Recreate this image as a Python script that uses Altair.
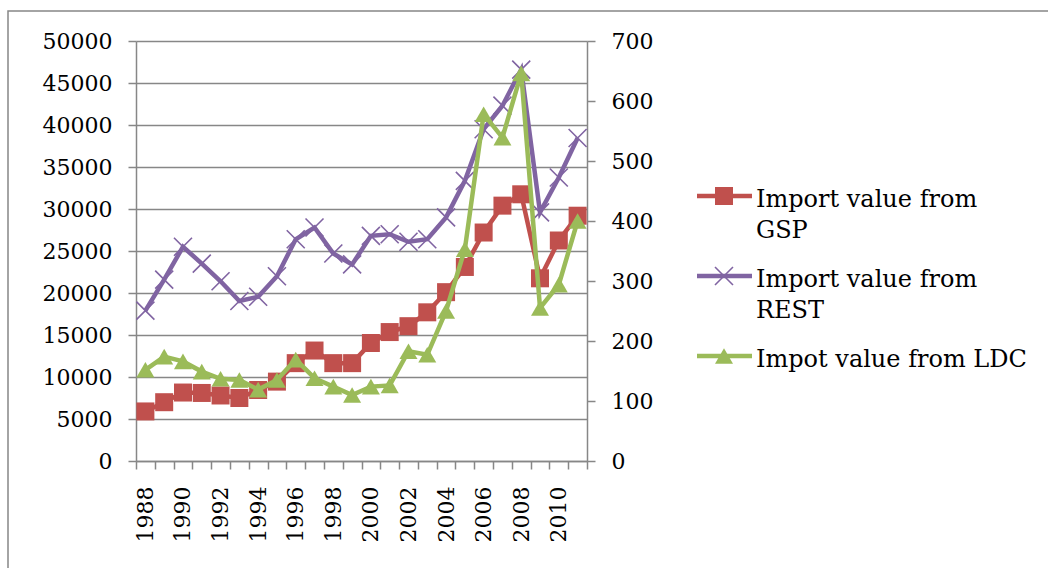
import altair as alt
import pandas as pd

years = list(range(1988, 2012))
gsp = [5900, 7000, 8150, 8100, 7800, 7500, 8450, 9450, 11650, 13150, 11650, 11650,
       14050, 15350, 16050, 17700, 20100, 23100, 27200, 30400, 31750, 21750, 26250, 29200]
rest = [17900, 21600, 25500, 23500, 21400, 19050, 19550, 22000, 26400, 27800, 24700, 23400,
        26800, 27000, 26100, 26400, 29000, 33350, 39500, 42300, 46600, 29600, 33750, 38450]
ldc = [152, 174, 166, 149, 137, 135, 119, 135, 169, 138, 124, 110,
       124, 126, 183, 177, 250, 353, 578, 539, 646, 255, 294, 400]

left_ticks = list(range(0, 50001, 5000))
right_ticks = list(range(0, 701, 100))

legend_lines = [["Import value from", "GSP"], ["Import value from", "REST"], ["Impot value from LDC"]]
colors = ["#C0504D", "#8064A2", "#9BBB59"]

W, H = 451, 420
FONT = "DejaVu Serif"
GRAY = "#878787"
XSHAPE = "M-1,-1L1,1M-1,1L1,-1"

df_gsp = pd.DataFrame({"year": years, "value": gsp})
df_rest = pd.DataFrame({"year": years, "value": rest})
df_ldc = pd.DataFrame({"year": years, "value": ldc})

x_enc = alt.X(
    "year:O",
    bandPosition=0.5,
    scale=alt.Scale(type="band", paddingInner=0, paddingOuter=0),
    axis=alt.Axis(title=None, tickBand="extent", labelAngle=-90, labelPadding=17, tickSize=8,
                  labelExpr="datum.value % 2 == 0 ? datum.label : ''", grid=False),
)

yl = alt.Y("value:Q", scale=alt.Scale(domain=[0, 50000], nice=False),
           axis=alt.Axis(title=None, values=left_ticks, grid=True, orient="left", format="d",
                         tickSize=8, labelPadding=16))
yr = alt.Y("value:Q", scale=alt.Scale(domain=[0, 700], nice=False),
           axis=alt.Axis(title=None, values=right_ticks, grid=False, orient="right", format="d",
                         tickSize=8, labelPadding=16))


def series(df, y, color, shape, filled, sw=0):
    line = alt.Chart(df).mark_line(color=color, strokeWidth=4.5).encode(x=x_enc, y=y)
    if filled:
        pts = alt.Chart(df).mark_point(shape=shape, filled=True, size=324, color=color,
                                       opacity=1).encode(x=x_enc, y=y)
    else:
        pts = alt.Chart(df).mark_point(shape=shape, filled=False, size=324, color=color,
                                       strokeWidth=sw, opacity=1).encode(x=x_enc, y=y)
    return [line, pts]


left = alt.layer(*series(df_gsp, yl, colors[0], "square", True),
                 *series(df_rest, yl, colors[1], XSHAPE, False, 1.6))
right = alt.layer(*series(df_ldc, yr, colors[2], "triangle-up", True))

one = pd.DataFrame({"k": [0]})
frame = alt.Chart(one).mark_rect(fill="transparent", stroke=GRAY, strokeWidth=1.5).encode(
    x=alt.value(-128), x2=alt.value(1000), y=alt.value(-30), y2=alt.value(620))

legend_layers = []
row_y = [155, 235, 315]
shapes = [("square", True), (XSHAPE, False), ("triangle-up", True)]
for i in range(3):
    ly = row_y[i]
    c = colors[i]
    legend_layers.append(alt.Chart(one).mark_rule(color=c, strokeWidth=4.5).encode(
        x=alt.value(561), x2=alt.value(616), y=alt.value(ly)))
    shp, fl = shapes[i]
    if fl:
        legend_layers.append(alt.Chart(one).mark_point(shape=shp, filled=True, size=324, color=c,
                                                       opacity=1).encode(x=alt.value(588), y=alt.value(ly)))
    else:
        legend_layers.append(alt.Chart(one).mark_point(shape=shp, filled=False, size=324, color=c,
                                                       strokeWidth=1.6, opacity=1).encode(
            x=alt.value(588), y=alt.value(ly)))
    legend_layers.append(alt.Chart(one).mark_text(align="left", baseline="alphabetic", font=FONT,
                                                  fontSize=24, lineHeight=31, color="black").encode(
        x=alt.value(620), y=alt.value(ly + 11), text=alt.value(legend_lines[i])))

chart = alt.layer(frame, left, right, *legend_layers).resolve_scale(y="independent").properties(
    width=W, height=H,
    autosize=alt.AutoSizeParams(type="none"),
    padding={"left": 136, "top": 41, "right": 1048 - 136 - W, "bottom": 568 - 41 - H},
    background="white",
).configure_view(stroke=None).configure_axis(
    domainColor=GRAY, tickColor=GRAY, gridColor=GRAY, domainWidth=1.5, tickWidth=1.5, gridWidth=1.5,
    labelFont=FONT, labelFontSize=22, labelColor="black",
)

chart.save("out.html", embed_options={"renderer": "svg", "actions": False})
